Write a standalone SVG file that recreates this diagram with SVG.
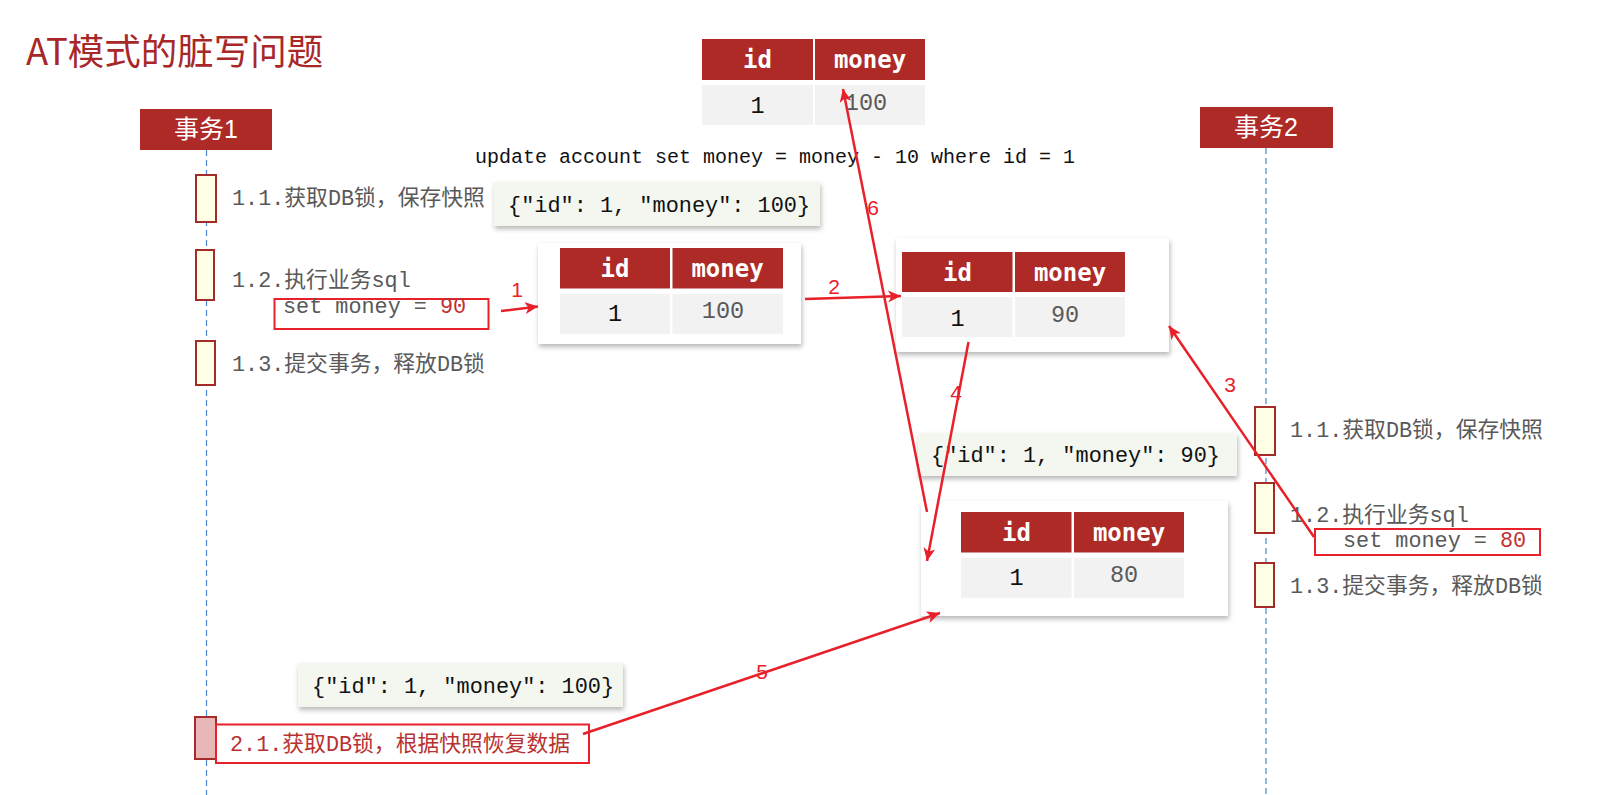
<svg xmlns="http://www.w3.org/2000/svg" width="1610" height="795" viewBox="0 0 1610 795">
<style>
.title{font-family:"Noto Sans CJK SC","Liberation Sans",sans-serif;font-size:36.5px;fill:#A8282A}
.hdr{fill:#AE2A27}
.hdrtxt{font-family:"Liberation Sans","Noto Sans CJK SC",sans-serif;font-size:25px;fill:#fff}
.life{stroke:#4A86D0;stroke-width:1.2;stroke-dasharray:6 4;fill:none}
.act{fill:#FFFFE6;stroke:#A52A2A;stroke-width:2}
.act2{fill:#E8B8B8;stroke:#A52A2A;stroke-width:2}
.lbl{font-family:"Liberation Mono","Noto Sans CJK SC",monospace;font-size:21.8px;fill:#595959}
.sql{font-family:"Liberation Mono","Noto Sans CJK SC",monospace;font-size:20px;fill:#111}
.json{font-family:"Liberation Mono",monospace;font-size:21.9px;fill:#111}
.snap{fill:#F3F7F0;filter:url(#sh)}
.card{fill:#fff;filter:url(#sh)}
.th{fill:#AE2A27}
.td{fill:#F2F2F2}
.tht{font-family:"DejaVu Sans Mono","Liberation Mono",monospace;font-weight:bold;font-size:24px;fill:#fff;text-anchor:middle}
.tdt{font-family:"Liberation Mono",monospace;font-size:23.5px;fill:#111;text-anchor:middle}
.tdv{font-family:"Liberation Mono",monospace;font-size:23.5px;fill:#595959;text-anchor:middle}
.redbox{fill:none;stroke:#E8202A;stroke-width:2}
.red{fill:#C0302F}
.conn{stroke:#E8202A;stroke-width:2.5;fill:none;marker-end:url(#ah)}
.num{font-family:"Liberation Sans",sans-serif;font-size:21px;fill:#E8202A;text-anchor:middle}
</style>
<defs>
<filter id="sh" x="-10%" y="-10%" width="125%" height="135%">
<feDropShadow dx="1" dy="3" stdDeviation="2.5" flood-color="#000" flood-opacity="0.28"/>
</filter>
<marker id="ah" markerUnits="userSpaceOnUse" markerWidth="14" markerHeight="12" refX="13" refY="6" orient="auto">
<path d="M0,0 L13,6 L0,12 L3.5,6 Z" fill="#E8202A"/>
</marker>
</defs>
<rect width="1610" height="795" fill="#fff"/>

<text class="title" x="26" y="65">AT模式的脏写问题</text>

<g id="lifelines">
<line class="life" x1="206.5" y1="150" x2="206.5" y2="795"/>
<line class="life" x1="1266" y1="148" x2="1266" y2="795"/>
</g>

<g id="tx1">
<rect class="hdr" x="140" y="109" width="132" height="41"/>
<text class="hdrtxt" x="206" y="138" text-anchor="middle">事务1</text>
</g>
<g id="tx2">
<rect class="hdr" x="1200" y="107" width="133" height="41"/>
<text class="hdrtxt" x="1266" y="136" text-anchor="middle">事务2</text>
</g>

<g id="t1-step11">
<rect class="act" x="196" y="175" width="20" height="47"/>
<text class="lbl" x="232" y="205">1.1.获取DB锁，保存快照</text>
</g>
<g id="t1-step12">
<rect class="act" x="196" y="250" width="18" height="50"/>
<text class="lbl" x="232" y="287">1.2.执行业务sql</text>
<rect class="redbox" x="274.5" y="299" width="214" height="30"/>
<text class="lbl" x="283" y="313">set money = <tspan class="red">90</tspan></text>
</g>
<g id="t1-step13">
<rect class="act" x="196" y="341" width="19" height="44"/>
<text class="lbl" x="232" y="371">1.3.提交事务，释放DB锁</text>
</g>

<g id="sql">
<text class="sql" x="475" y="163">update account set money = money - 10 where id = 1</text>
</g>

<g id="table-db">
<rect class="th" x="702" y="39" width="111" height="41"/>
<rect class="th" x="815" y="39" width="110" height="41"/>
<rect class="td" x="702" y="85" width="111" height="40"/>
<rect class="td" x="815" y="85" width="110" height="40"/>
<text class="tht" x="757.5" y="68">id</text>
<text class="tht" x="870" y="68">money</text>
<text class="tdt" x="757.5" y="113">1</text>
<text class="tdv" x="866" y="110">100</text>
</g>

<g id="snap1">
<rect class="snap" x="494" y="182" width="326" height="44"/>
<text class="json" x="508" y="212">{"id": 1, "money": 100}</text>
</g>

<g id="table1">
<rect class="card" x="538" y="243" width="263" height="101"/>
<rect class="th" x="560" y="248" width="110" height="40.5"/>
<rect class="th" x="672.5" y="248" width="110.5" height="40.5"/>
<rect class="td" x="560" y="294" width="110" height="40"/>
<rect class="td" x="672.5" y="294" width="110.5" height="40"/>
<text class="tht" x="615" y="277">id</text>
<text class="tht" x="727.5" y="277">money</text>
<text class="tdt" x="615" y="321">1</text>
<text class="tdv" x="723" y="318">100</text>
</g>

<g id="table2">
<rect class="card" x="896" y="238" width="273" height="114"/>
<rect class="th" x="902" y="252" width="110.5" height="40"/>
<rect class="th" x="1015" y="252" width="110" height="40"/>
<rect class="td" x="902" y="297" width="110.5" height="40"/>
<rect class="td" x="1015" y="297" width="110" height="40"/>
<text class="tht" x="957.5" y="281">id</text>
<text class="tht" x="1070" y="281">money</text>
<text class="tdt" x="957.5" y="326">1</text>
<text class="tdv" x="1065" y="322">90</text>
</g>

<g id="snap2">
<rect class="snap" x="918" y="433" width="319" height="43"/>
<text class="json" x="931" y="462">{"id": 1, "money": 90}</text>
</g>

<g id="table3">
<rect class="card" x="921" y="501" width="307" height="115"/>
<rect class="th" x="961" y="512" width="110.5" height="40.5"/>
<rect class="th" x="1074" y="512" width="110" height="40.5"/>
<rect class="td" x="961" y="558" width="110.5" height="40"/>
<rect class="td" x="1074" y="558" width="110" height="40"/>
<text class="tht" x="1016.5" y="541">id</text>
<text class="tht" x="1129" y="541">money</text>
<text class="tdt" x="1016.5" y="585">1</text>
<text class="tdv" x="1124" y="582">80</text>
</g>

<g id="t2-step11">
<rect class="act" x="1255" y="407" width="20" height="48"/>
<text class="lbl" x="1290" y="437">1.1.获取DB锁，保存快照</text>
</g>
<g id="t2-step12">
<rect class="act" x="1255" y="483" width="19" height="50"/>
<text class="lbl" x="1290" y="522">1.2.执行业务sql</text>
<rect class="redbox" x="1315" y="529" width="225" height="26"/>
<text class="lbl" x="1343" y="547">set money = <tspan class="red">80</tspan></text>
</g>
<g id="t2-step13">
<rect class="act" x="1255" y="563" width="19" height="44"/>
<text class="lbl" x="1290" y="593">1.3.提交事务，释放DB锁</text>
</g>

<g id="snap3">
<rect class="snap" x="298" y="663" width="325" height="44"/>
<text class="json" x="312" y="693">{"id": 1, "money": 100}</text>
</g>

<g id="t1-step21">
<rect class="act2" x="195" y="717" width="21" height="42"/>
<rect class="redbox" x="216" y="724.5" width="373" height="38.5"/>
<text class="lbl" x="230" y="751" style="fill:#B83232">2.1.获取DB锁，根据快照恢复数据</text>
</g>

<g id="connectors">
<line class="conn" x1="501" y1="311" x2="538" y2="306.5"/>
<text class="num" x="517" y="297">1</text>
<line class="conn" x1="805" y1="299" x2="901" y2="296"/>
<text class="num" x="834" y="294">2</text>
<line class="conn" x1="1314" y1="537" x2="1169" y2="326"/>
<text class="num" x="1230" y="392">3</text>
<line class="conn" x1="968.5" y1="342" x2="927" y2="561"/>
<text class="num" x="956" y="400">4</text>
<line class="conn" x1="583" y1="734" x2="940" y2="613"/>
<text class="num" x="762" y="679">5</text>
<line class="conn" x1="927" y1="512" x2="843" y2="89"/>
<text class="num" x="873" y="215">6</text>
</g>
</svg>
